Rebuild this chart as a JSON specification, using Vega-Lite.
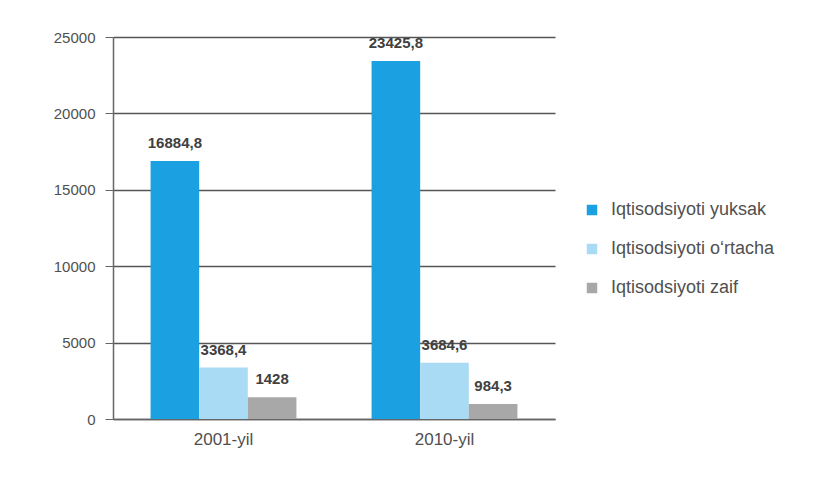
{
  "$schema": "https://vega.github.io/schema/vega-lite/v6.json",
  "autosize": "none",
  "padding": {"left": 113, "top": 37, "right": 267, "bottom": 67},
  "width": 442,
  "height": 382,
  "background": "white",
  "config": {
    "font": "Liberation Sans",
    "view": {"stroke": null}
  },
  "data": {
    "values": [
      {"yil": "2001-yil", "guruh": "Iqtisodsiyoti yuksak", "qiymat": 16884.8, "yorliq": "16884,8"},
      {"yil": "2001-yil", "guruh": "Iqtisodsiyoti o‘rtacha", "qiymat": 3368.4, "yorliq": "3368,4"},
      {"yil": "2001-yil", "guruh": "Iqtisodsiyoti zaif", "qiymat": 1428, "yorliq": "1428"},
      {"yil": "2010-yil", "guruh": "Iqtisodsiyoti yuksak", "qiymat": 23425.8, "yorliq": "23425,8"},
      {"yil": "2010-yil", "guruh": "Iqtisodsiyoti o‘rtacha", "qiymat": 3684.6, "yorliq": "3684,6"},
      {"yil": "2010-yil", "guruh": "Iqtisodsiyoti zaif", "qiymat": 984.3, "yorliq": "984,3"}
    ]
  },
  "encoding": {
    "x": {
      "field": "yil", "type": "nominal",
      "scale": {"paddingInner": 0.34, "paddingOuter": 0.17},
      "axis": {
        "title": null, "labelAngle": 0, "labelFontSize": 17, "labelColor": "#505050",
        "labelPadding": 12, "domainColor": "#666", "domainWidth": 1.5,
        "ticks": false, "grid": false
      }
    },
    "xOffset": {"field": "guruh", "type": "nominal",
      "sort": ["Iqtisodsiyoti yuksak", "Iqtisodsiyoti o‘rtacha", "Iqtisodsiyoti zaif"],
      "scale": {"paddingInner": 0, "paddingOuter": 0}},
    "y": {
      "field": "qiymat", "type": "quantitative",
      "scale": {"domain": [0, 25000]},
      "axis": {
        "title": null, "values": [0, 5000, 10000, 15000, 20000, 25000], "format": "d",
        "labelFontSize": 15, "labelColor": "#505050", "labelPadding": 10,
        "tickSize": 8, "tickColor": "#666", "domainColor": "#666", "domainWidth": 1.5,
        "gridColor": "#555", "gridWidth": 1.5
      }
    }
  },
  "layer": [
    {
      "mark": {"type": "bar"},
      "encoding": {
        "color": {
          "field": "guruh", "type": "nominal",
          "sort": ["Iqtisodsiyoti yuksak", "Iqtisodsiyoti o‘rtacha", "Iqtisodsiyoti zaif"],
          "scale": {
            "domain": ["Iqtisodsiyoti yuksak", "Iqtisodsiyoti o‘rtacha", "Iqtisodsiyoti zaif"],
            "range": ["#1ba1e2", "#a9dcf4", "#a8a8a8"]
          },
          "legend": {
            "title": null, "orient": "none", "legendX": 470, "legendY": 164,
            "symbolType": "square", "symbolSize": 110, "labelFontSize": 18, "labelLimit": 400,
            "labelColor": "#505050", "rowPadding": 21, "symbolStrokeWidth": 0, "labelOffset": 10
          }
        }
      }
    },
    {
      "mark": {"type": "text", "baseline": "bottom", "dy": -10, "fontSize": 15, "fontWeight": "bold", "color": "#404040"},
      "encoding": {
        "text": {"field": "yorliq"}
      }
    }
  ]
}
